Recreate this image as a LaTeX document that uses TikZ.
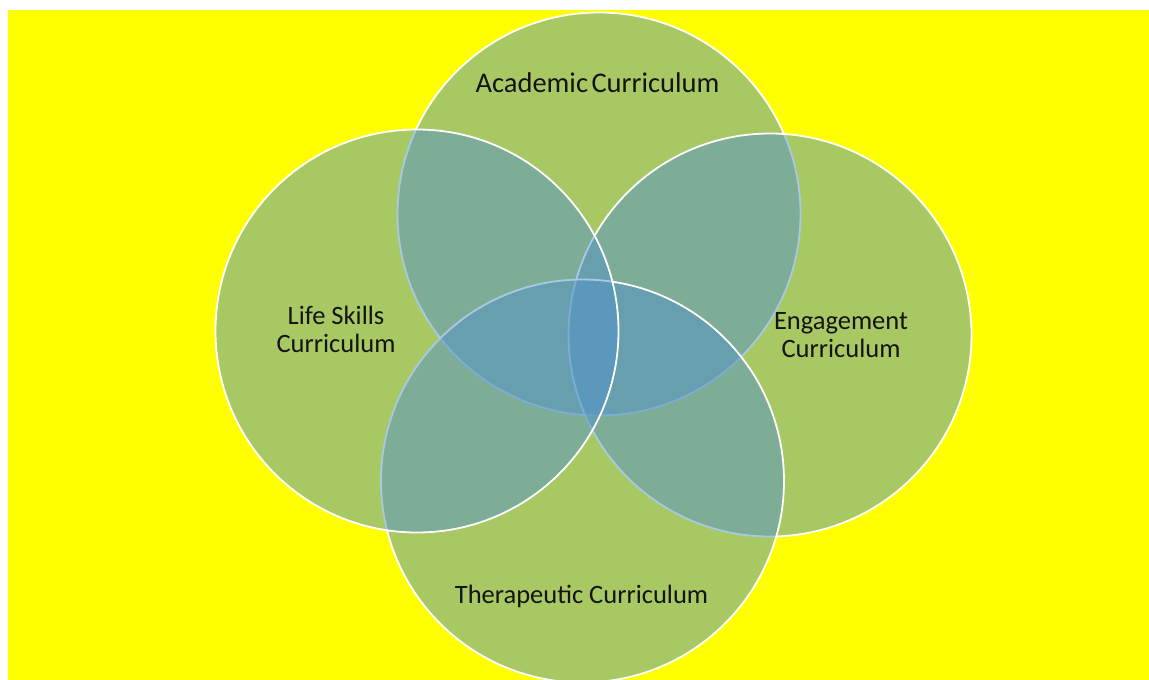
\documentclass[tikz,border=0pt]{standalone}
\usepackage{fontspec}
\setmainfont{Carlito}
\definecolor{bgyellow}{RGB}{255,255,0}
\definecolor{vennfill}{RGB}{83,147,200}
\definecolor{labeltext}{RGB}{20,20,20}
\tikzset{
  venn/.style={circle, minimum size=403pt, inner sep=0pt, fill=vennfill, fill opacity=0.5, draw=white, draw opacity=1, line width=1.8pt},
  vlabel/.style={font=\fontsize{26.5}{27.5}\selectfont, text=labeltext, align=center, inner sep=0pt, anchor=base},
}
\begin{document}
\begin{tikzpicture}[x=1pt,y=-1pt]
\useasboundingbox (0,0) rectangle (1149,680);
\fill[bgyellow] (8,10) rectangle (1149,680);
\begin{scope}
\clip (8,10) rectangle (1149,680);
\node[venn] (academic) at (599,214) {};
\node[venn] (engagement) at (770,335) {};
\node[venn] (therapeutic) at (582.5,481) {};
\node[venn] (lifeskills) at (417,331) {};
\end{scope}
\node[vlabel, font=\fontsize{28.5}{30}\selectfont] (tacademic) at (597.5,92) {Academic\hspace{3.5pt}Curriculum};
\node[vlabel] (tlife) at (336,352) {Life Skills\\Curriculum};
\node[vlabel] (tengage) at (841,357) {Engagement\\Curriculum};
\node[vlabel] (ttherap) at (581.5,603) {Therapeutic Curriculum};
\end{tikzpicture}
\end{document}
